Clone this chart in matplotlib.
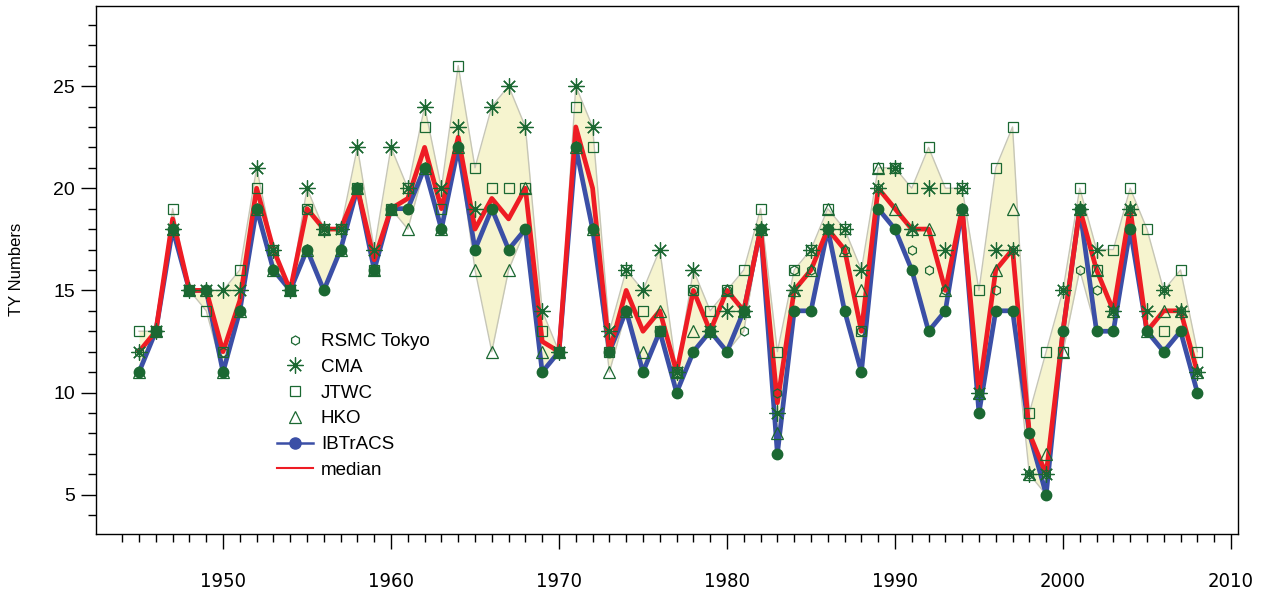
import numpy as np
import matplotlib
matplotlib.use("Agg")
import matplotlib.pyplot as plt
from matplotlib.lines import Line2D
from matplotlib import font_manager

years = list(range(1945, 2009))

ibtracs = [11, 13, 18, 15, 15, 11, 14, 19, 16, 15,
           17, 15, 17, 20, 16, 19, 19, 21, 18, 22,
           17, 19, 17, 18, 11, 12, 22, 18, 12, 14,
           11, 13, 10, 12, 13, 12, 14, 18, 7, 14,
           14, 18, 14, 11, 19, 18, 16, 13, 14, 19,
           9, 14, 14, 8, 5, 13, 19, 13, 13, 18,
           13, 12, 13, 10]

rsmc = [12, 13, 18, 15, 15, 12, 14, 19, 17, 15,
        19, 18, 18, 20, 16, 19, 19, 21, 18, 22,
        17, 19, 17, 18, 11, 12, 22, 18, 12, 14,
        11, 13, 11, 15, 13, 15, 13, 18, 10, 16,
        16, 18, 17, 13, 20, 21, 17, 16, 15, 19,
        10, 15, 17, 6, 6, 15, 16, 15, 14, 19,
        13, 15, 14, 11]

cma = [12, 13, 18, 15, 15, 15, 15, 21, 17, 15,
       20, 18, 18, 22, 17, 22, 20, 24, 20, 23,
       19, 24, 25, 23, 14, 12, 25, 23, 13, 16,
       15, 17, 11, 16, 13, 14, 14, 18, 9, 15,
       17, 18, 18, 16, 20, 21, 18, 20, 17, 20,
       10, 17, 17, 6, 6, 15, 19, 17, 14, 19,
       14, 15, 14, 11]

jtwc = [13, 13, 19, 15, 14, 12, 16, 20, 17, 15,
        19, 18, 18, 20, 16, 19, 20, 23, 19, 26,
        21, 20, 20, 20, 13, 12, 24, 22, 12, 16,
        14, 13, 11, 15, 14, 15, 16, 19, 12, 16,
        17, 19, 18, 13, 21, 21, 20, 22, 20, 20,
        15, 21, 23, 9, 12, 12, 20, 16, 17, 20,
        18, 13, 16, 12]

hko = [11, 13, 18, 15, 15, 11, 14, 19, 16, 15,
       17, 18, 17, 20, 16, 19, 18, 21, 18, 22,
       16, 12, 16, 20, 12, 12, 22, 18, 11, 14,
       12, 14, 11, 13, 13, 15, 14, 18, 8, 15,
       16, 19, 17, 15, 21, 19, 18, 18, 15, 19,
       10, 16, 19, 6, 7, 12, 19, 16, 14, 19,
       13, 14, 14, 11]

median = [12, 13, 18.5, 15, 15, 12, 14.5, 20, 17, 15,
          19, 18, 18, 20, 16.5, 19, 19.5, 22, 19, 22.5,
          18, 19.5, 18.5, 20, 12.5, 12, 23, 20, 12, 15,
          13, 14, 11, 15, 13, 15, 14, 18, 9.5, 15,
          16, 18, 17, 13, 20, 19, 18, 18, 15, 19,
          10, 16, 17, 8, 6, 13, 19, 16, 14, 19,
          13, 14, 14, 11]

x_major = [1950, 1960, 1970, 1980, 1990, 2000, 2010]
y_major = [5, 10, 15, 20, 25]

GREEN = "#1b6832"
BLUE = "#3b4fa6"
RED = "#ee1c24"
FILL = "#f6f4cf"
EDGE = "#c6c6b6"

# choose a narrow face for the year labels if available
names = {f.name for f in font_manager.fontManager.ttflist}
if "Liberation Sans Narrow" in names:
    xfam, xsize, xstretch = "Liberation Sans Narrow", 16.5, "normal"
elif any(f.name == "DejaVu Sans" and f.stretch == "condensed" for f in font_manager.fontManager.ttflist):
    xfam, xsize, xstretch = "DejaVu Sans", 14.5, "condensed"
else:
    xfam, xsize, xstretch = "Liberation Sans", 14, "normal"

fig = plt.figure(figsize=(12.65, 5.93), dpi=100)
ax_left, ax_right = 95.7 / 1265, 1238 / 1265
ax_bottom, ax_top = 1 - 533.5 / 593, 1 - 6 / 593
ax = fig.add_axes([ax_left, ax_bottom, ax_right - ax_left, ax_top - ax_bottom])

allv = np.array([rsmc, cma, jtwc, hko, ibtracs], dtype=float)
lo = allv.min(axis=0)
hi = allv.max(axis=0)

ax.fill_between(years, lo, hi, color=FILL, lw=0, zorder=1)
ax.plot(years, lo, color=EDGE, lw=1.0, zorder=1.5)
ax.plot(years, hi, color=EDGE, lw=1.0, zorder=1.5)

ax.plot(years, ibtracs, color=BLUE, lw=3.4, zorder=3)
ax.plot(years, median, color=RED, lw=3.4, zorder=3.5)

mk = dict(ls="none", mec=GREEN, mew=0.9, zorder=4)
ax.plot(years, rsmc, marker="h", ms=6.5, mfc="none", **mk)
ax.plot(years, cma, marker=(8, 2, 0), ms=11.5, **mk)
ax.plot(years, jtwc, marker="s", ms=7.5, mfc="none", **mk)
ax.plot(years, hko, marker="^", ms=9, mfc="none", **mk)
ax.plot(years, ibtracs, ls="none", marker="o", ms=7.5, mfc=GREEN, mec=GREEN, zorder=5)

ax.set_xlim(1942.42, 2010.42)
ax.set_ylim(3.1, 28.92)

ax.set_xticks(x_major)
ax.set_xticks(np.arange(1944, 2011), minor=True)
ax.set_yticks(y_major)
ax.set_yticks(np.arange(4, 29), minor=True)
ax.tick_params(axis="both", which="major", direction="out", length=11, width=1, color="black")
ax.tick_params(axis="both", which="minor", direction="out", length=6, width=1, color="black")
ax.tick_params(axis="y", labelsize=14, pad=4)
ax.tick_params(axis="x", labelsize=xsize, pad=17)
for lab in ax.get_xticklabels():
    lab.set_fontfamily(xfam)
    lab.set_fontstretch(xstretch)
for lab in ax.get_yticklabels():
    lab.set_fontfamily("Liberation Sans")
for sp in ax.spines.values():
    sp.set_linewidth(1.0)
    sp.set_color("black")

ax.set_ylabel("TY Numbers", fontsize=12, family="Liberation Sans", labelpad=21)

handles = [
    Line2D([], [], ls="none", marker="h", ms=6.5, mfc="none", mec=GREEN, mew=0.9),
    Line2D([], [], ls="none", marker=(8, 2, 0), ms=11.5, mec=GREEN, mew=0.9),
    Line2D([], [], ls="none", marker="s", ms=7.5, mfc="none", mec=GREEN, mew=0.9),
    Line2D([], [], ls="none", marker="^", ms=9, mfc="none", mec=GREEN, mew=0.9),
    Line2D([], [], color=BLUE, lw=1.8, marker="o", ms=8, mfc=BLUE, mec=BLUE),
    Line2D([], [], color=RED, lw=1.5),
]
labels = ["RSMC Tokyo", "CMA", "JTWC", "HKO", "IBTrACS", "median"]
ax_h = 533.5 - 6
ax.legend(handles, labels, loc="center left",
          bbox_to_anchor=((277 - 95.7) / 1142.3, (533.5 - 405.9) / ax_h),
          frameon=False, prop={"family": "Liberation Sans", "size": 13.5},
          handlelength=1.92, handletextpad=0.42, labelspacing=0.46, borderpad=0,
          borderaxespad=0)

fig.savefig("out.png", dpi=100)
